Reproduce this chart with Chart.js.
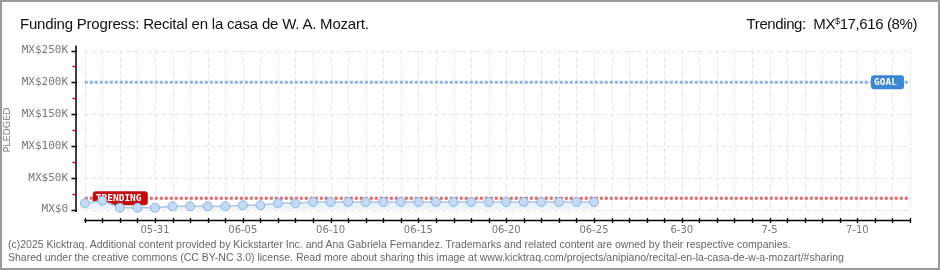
<!DOCTYPE html>
<html>
<head>
<meta charset="utf-8">
<script src="https://cdn.jsdelivr.net/npm/chart.js@4.4.0/dist/chart.umd.min.js"></script>
<style>
  html, body { margin: 0; padding: 0; background: #fff; }
  #page { position: relative; width: 940px; height: 270px; overflow: hidden; }
  #chart { position: absolute; left: 0; top: 0; }
  #frame { position: absolute; left: 0; top: 0; width: 940px; height: 270px; box-sizing: border-box;
           border: 2px solid #9a9a9a; pointer-events: none; }
  .txt { position: absolute; white-space: nowrap; font-family: "Liberation Sans", Arial, sans-serif; color: #111; }
  #title { left: 20px; top: 16px; font-size: 15px; line-height: 15px; letter-spacing: -0.2px; }
  #trend { right: 23px; top: 16px; font-size: 15px; line-height: 15px; letter-spacing: -0.4px; }
  #trend sup { font-size: 9px; vertical-align: 5px; line-height: 0; }
  #foot { left: 8px; top: 238px; font-size: 10.5px; line-height: 12.5px; color: #666; }
</style>
</head>
<body>
<div id="page">
  <canvas id="chart" width="940" height="270"></canvas>
  <div class="txt" id="title">Funding Progress: Recital en la casa de W. A. Mozart.</div>
  <div class="txt" id="trend">Trending:&nbsp; MX<sup>$</sup>17,616 (8%)</div>
  <div class="txt" id="foot">(c)2025 Kicktraq. Additional content provided by Kickstarter Inc. and Ana Gabriela Fernandez. Trademarks and related content are owned by their respective companies.<br>Shared under the creative commons (CC BY-NC 3.0) license. Read more about sharing this image at www.kicktraq.com/projects/anipiano/recital-en-la-casa-de-w-a-mozart/#sharing</div>
  <div id="frame"></div>
</div>
<script>
// one category per day, 05-27 .. 07-13
const days = [
  '05-27','05-28','05-29','05-30','05-31',
  '06-01','06-02','06-03','06-04','06-05','06-06','06-07','06-08','06-09','06-10',
  '06-11','06-12','06-13','06-14','06-15','06-16','06-17','06-18','06-19','06-20',
  '06-21','06-22','06-23','06-24','06-25','06-26','06-27','06-28','06-29','06-30',
  '07-01','07-02','07-03','07-04','07-05','07-06','07-07','07-08','07-09','07-10',
  '07-11','07-12','07-13'
];
// labels as printed under every 5th day starting at 05-31
const xTickLabels = ['05-31','06-05','06-10','06-15','06-20','06-25','6-30','7-5','7-10'];

// pledged total per day (MX$)
const pledged = [
  9700, 13800, 2800, 2800, 2800, 5000, 5000, 5000, 5000, 6600,
  6600, 9700, 9700, 11800, 11800, 11800, 11800, 11800, 11800, 11800,
  11800, 11800, 11800, 11800, 11800, 11800, 11800, 11800, 11800, 11800
];

const goal = 200000;
const trending = 17616;
const yMax = 250000;

const decor = {
  id: 'decor',
  beforeDatasetsDraw(chart) {
    const { ctx, scales: { x, y } } = chart;
    const x0 = x.getPixelForValue(0);
    const x1 = x.getPixelForValue(days.length - 1);
    const yTop = y.getPixelForValue(yMax);
    const yZero = y.getPixelForValue(0);
    const line = (ax, ay, bx, by) => { ctx.beginPath(); ctx.moveTo(ax, ay); ctx.lineTo(bx, by); ctx.stroke(); };
    ctx.save();

    // dashed grid
    ctx.strokeStyle = '#e3e3e3';
    ctx.lineWidth = 1;
    ctx.setLineDash([4, 3]);
    for (let i = 0; i < days.length; i++) {
      const px = Math.round(x.getPixelForValue(i)) + 0.5;
      line(px, yTop, px, yZero + 2);
    }
    for (let v = 0; v <= yMax; v += 50000) {
      const py = Math.round(y.getPixelForValue(v)) + 0.5;
      line(x0, py, x1, py);
    }

    // goal and trending lines
    ctx.lineWidth = 3;
    ctx.setLineDash([3, 2]);
    ctx.strokeStyle = '#8cb4e2';
    const gy = y.getPixelForValue(goal);
    line(x0, gy, x1, gy);
    ctx.strokeStyle = '#dc6a6c';
    const ty = y.getPixelForValue(trending);
    line(x0, ty, x1, ty);
    ctx.setLineDash([]);

    // badges
    const badge = (text, bx, by, w, color) => {
      ctx.fillStyle = color;
      ctx.beginPath();
      ctx.roundRect(bx, by - 7, w, 14, 3);
      ctx.fill();
      ctx.fillStyle = '#fff';
      ctx.font = 'bold 9.5px "DejaVu Sans Mono"';
      ctx.textBaseline = 'middle';
      ctx.textAlign = 'left';
      ctx.fillText(text, bx + 3, by + 0.5);
    };
    badge('GOAL', x1 - 39, gy, 33, '#3b86d6');
    badge('TRENDING', x0 + 8, ty, 55, '#bf0d10');

    // y axis line and ticks
    ctx.strokeStyle = '#000';
    ctx.lineWidth = 1.5;
    const ax = chart.chartArea.left;
    line(ax, yTop - 5, ax, yZero + 2.5);
    for (let v = 0; v <= yMax; v += 25000) {
      const py = Math.round(y.getPixelForValue(v)) + 0.5;
      if (v % 50000 === 0) {
        ctx.strokeStyle = '#000';
        line(ax - 4.5, py, ax + 1, py);
      } else {
        ctx.strokeStyle = '#e00000';
        line(ax - 3.5, py, ax, py);
      }
    }

    // x axis line and ticks
    ctx.strokeStyle = '#000';
    const axY = yZero + 11;
    line(x0 - 0.5, axY, x1 + 0.5, axY);
    ctx.lineWidth = 1.3;
    for (let i = 0; i < days.length; i++) {
      const px = Math.round(x.getPixelForValue(i)) + 0.5;
      line(px, axY - 2.5, px, axY + 2.5);
    }
    ctx.restore();
  }
};

new Chart(document.getElementById('chart'), {
  type: 'line',
  data: {
    labels: days,
    datasets: [{
      data: pledged,
      borderColor: '#a9c7ea',
      borderWidth: 1.5,
      backgroundColor: '#eaf2fc',
      fill: 'origin',
      tension: 0,
      pointRadius: 4.5,
      pointBackgroundColor: '#c3daf4',
      pointBorderColor: '#8fb3de',
      pointBorderWidth: 1,
      clip: false
    }]
  },
  options: {
    responsive: false,
    animation: false,
    devicePixelRatio: 1,
    layout: { padding: { left: 0, top: 50.5, right: 21.2, bottom: 30.5 } },
    plugins: { legend: { display: false }, tooltip: { enabled: false } },
    scales: {
      x: {
        offset: true,
        grid: { display: false, drawTicks: false },
        border: { display: false },
        afterFit(scale) { scale.height = 30; },
        ticks: {
          autoSkip: false,
          maxRotation: 0,
          padding: 14.5,
          color: '#777',
          font: { family: 'DejaVu Sans', size: 10 },
          callback(value, i) {
            return (i - 4) % 5 === 0 && i >= 4 ? xTickLabels[(i - 4) / 5] : '';
          }
        }
      },
      y: {
        min: 0,
        max: yMax,
        grid: { display: false, drawTicks: false },
        border: { display: false },
        afterFit(scale) { scale.width = 76; },
        title: { display: true, text: 'PLEDGED', color: '#777', font: { family: 'DejaVu Sans', size: 9.5 }, padding: { top: 1.5, bottom: 0 } },
        ticks: {
          stepSize: 50000,
          padding: 8,
          color: '#777',
          font: { family: 'DejaVu Sans Mono', size: 11 },
          callback(v) { return v === 0 ? 'MX$0' : 'MX$' + (v / 1000) + 'K'; }
        }
      }
    }
  },
  plugins: [decor]
});
</script>
</body>
</html>
